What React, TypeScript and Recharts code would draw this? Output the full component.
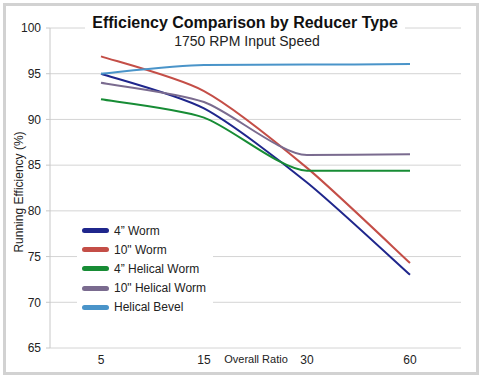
import React from 'react';
import { LineChart, Line, XAxis, YAxis, CartesianGrid, Legend } from 'recharts';

const ratios = ['5', '15', '30', '60'];
const worm4 = [95.0, 91.2, 83.1, 73.0];
const worm10 = [96.9, 93.1, 84.7, 74.3];
const helicalWorm4 = [92.2, 90.2, 84.4, 84.4];
const helicalWorm10 = [94.0, 91.9, 86.1, 86.2];
const helicalBevel = [95.0, 95.95, 96.0, 96.05];
const yTicks = [65, 70, 75, 80, 85, 90, 95, 100];

const series = [
    { key: 'worm4', name: '4\u201D Worm', color: '#1f268c', values: worm4 },
    { key: 'worm10', name: '10" Worm', color: '#c44e47', values: worm10 },
    { key: 'hw4', name: '4\u201D Helical Worm', color: '#178c35', values: helicalWorm4 },
    { key: 'hw10', name: '10" Helical Worm', color: '#7a6b8f', values: helicalWorm10 },
    { key: 'bevel', name: 'Helical Bevel', color: '#4a94c9', values: helicalBevel },
];

const data = ratios.map((ratio, i) => {
    const row: Record<string, string | number> = { ratio };
    series.forEach((s) => {
        row[s.key] = s.values[i];
    });
    return row;
});

const font = '"Liberation Sans", Arial, sans-serif';

// light spreadsheet-style smoothing, flattened where the line turns back
const K = 1 / 8;
const smoothCurve = (context: any) => {
    let pts: number[][] = [];
    const tangent = (i: number) => {
        const prev = pts[i - 1] || pts[i];
        const next = pts[i + 1] || pts[i];
        let ty = next[1] - prev[1];
        if (pts[i - 1] && pts[i + 1]) {
            const a = pts[i][1] - prev[1];
            const b = next[1] - pts[i][1];
            if (a * b <= 0 || Math.abs(a) < 1 || Math.abs(b) < 1) ty = 0;
        }
        return [next[0] - prev[0], ty];
    };
    return {
        areaStart() {},
        areaEnd() {},
        lineStart() {
            pts = [];
        },
        point(x: number, y: number) {
            pts.push([+x, +y]);
        },
        lineEnd() {
            if (!pts.length) return;
            context.moveTo(pts[0][0], pts[0][1]);
            for (let i = 0; i < pts.length - 1; i++) {
                const t1 = tangent(i);
                const t2 = tangent(i + 1);
                const p1 = pts[i];
                const p2 = pts[i + 1];
                context.bezierCurveTo(
                    p1[0] + t1[0] * K,
                    p1[1] + t1[1] * K,
                    p2[0] - t2[0] * K,
                    p2[1] - t2[1] * K,
                    p2[0],
                    p2[1]
                );
            }
        },
    };
};

const renderLegend = () => (
    <div style={{ background: '#fff', width: 136, height: 99, paddingTop: 2, boxSizing: 'border-box' }}>
        {series.map((s) => (
            <div key={s.key} style={{ display: 'flex', alignItems: 'center', height: 19.2 }}>
                <span
                    style={{
                        display: 'inline-block',
                        width: 27,
                        height: 5,
                        borderRadius: 3,
                        background: s.color,
                        marginLeft: 5,
                        marginRight: 5,
                    }}
                />
                <span style={{ fontSize: 12, color: '#222', fontFamily: font, whiteSpace: 'nowrap' }}>{s.name}</span>
            </div>
        ))}
    </div>
);

const App: React.FC = () => {
    return (
        <div style={{ position: 'absolute', left: 0, top: 0, width: 481, height: 377, background: '#fff', fontFamily: font }}>
            <LineChart width={481} height={377} data={data} margin={{ top: 28, right: 20, left: 0, bottom: 0 }}>
                <CartesianGrid vertical={false} stroke="#d4d4d4" />
                <XAxis
                    xAxisId="marks"
                    type="number"
                    domain={[0, 4]}
                    ticks={[1, 2, 3]}
                    allowDataOverflow
                    height={0}
                    tickSize={4}
                    tickFormatter={() => ''}
                    axisLine={{ stroke: '#c8c8c8' }}
                    tickLine={{ stroke: '#c8c8c8' }}
                />
                <XAxis
                    dataKey="ratio"
                    height={29}
                    padding={{ left: 51, right: 51 }}
                    axisLine={false}
                    tickLine={false}
                    tickSize={0}
                    tickMargin={7}
                    tick={{ fontSize: 12, fill: '#222', fontFamily: font }}
                />
                <YAxis
                    width={50}
                    domain={[65, 100]}
                    ticks={yTicks}
                    tickSize={4}
                    tickMargin={5}
                    axisLine={{ stroke: '#c8c8c8' }}
                    tickLine={{ stroke: '#c8c8c8' }}
                    tick={{ fontSize: 12, fill: '#222', fontFamily: font }}
                />
                <Legend
                    layout="vertical"
                    align="center"
                    verticalAlign="middle"
                    content={renderLegend}
                    wrapperStyle={{ left: 77, top: 219, width: 136, height: 99 }}
                />
                {series.map((s) => (
                    <Line
                        key={s.key}
                        type={smoothCurve as any}
                        dataKey={s.key}
                        name={s.name}
                        stroke={s.color}
                        strokeWidth={2}
                        dot={false}
                        activeDot={false}
                        isAnimationActive={false}
                    />
                ))}
            </LineChart>

            <div
                style={{
                    position: 'absolute',
                    left: 85,
                    top: 13.5,
                    width: 320,
                    height: 18,
                    lineHeight: '18px',
                    background: '#fff',
                    textAlign: 'center',
                    fontSize: 16,
                    fontWeight: 'bold',
                    color: '#111',
                    whiteSpace: 'nowrap',
                }}
            >
                Efficiency Comparison by Reducer Type
            </div>
            <div
                style={{
                    position: 'absolute',
                    left: 147,
                    top: 33.3,
                    width: 200,
                    lineHeight: '16px',
                    textAlign: 'center',
                    fontSize: 14,
                    color: '#222',
                    whiteSpace: 'nowrap',
                }}
            >
                1750 RPM Input Speed
            </div>
            <div
                style={{
                    position: 'absolute',
                    left: -81.5,
                    top: 184.5,
                    width: 200,
                    height: 14,
                    lineHeight: '14px',
                    textAlign: 'center',
                    fontSize: 12,
                    color: '#222',
                    transform: 'rotate(-90deg)',
                    whiteSpace: 'nowrap',
                }}
            >
                Running Efficiency (%)
            </div>
            <div
                style={{
                    position: 'absolute',
                    left: 206,
                    top: 352.7,
                    width: 100,
                    lineHeight: '13px',
                    textAlign: 'center',
                    fontSize: 11,
                    color: '#222',
                    whiteSpace: 'nowrap',
                }}
            >
                Overall Ratio
            </div>
            <div
                style={{
                    position: 'absolute',
                    left: 3,
                    top: 3,
                    width: 476,
                    height: 372,
                    border: '3px solid #d2d2d2',
                    boxSizing: 'border-box',
                    pointerEvents: 'none',
                }}
            />
        </div>
    );
};

export default App;
